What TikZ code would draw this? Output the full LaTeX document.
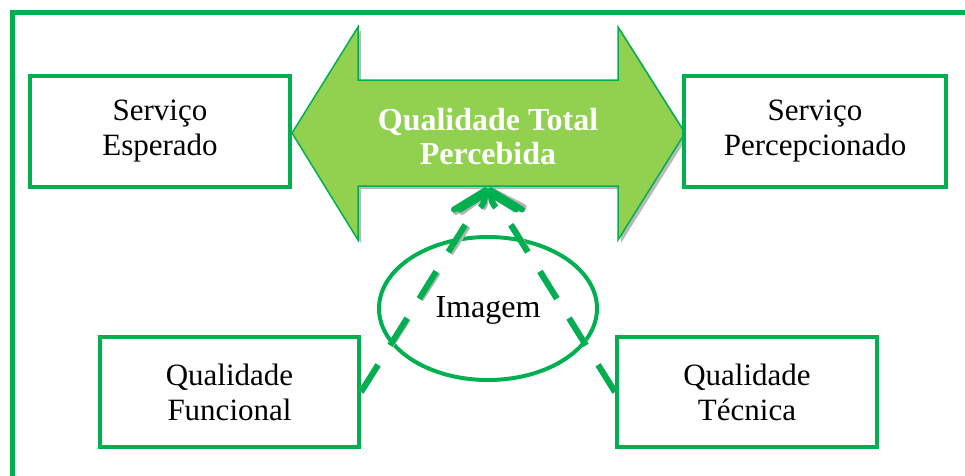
\documentclass[tikz,border=0pt]{standalone}
\usepackage{fontspec}
\setmainfont{Liberation Serif}
\usetikzlibrary{arrows.meta,shapes.geometric}
\definecolor{gr}{HTML}{00B050}
\definecolor{lg}{HTML}{92D050}
\begin{document}
\begin{tikzpicture}[x=1pt,y=-1pt,
  box/.style={draw=gr,line width=4pt,fill=white,minimum width=260pt,minimum height=111pt,align=center,inner sep=0pt,font=\fontsize{31}{35}\selectfont},
  conn/.style={draw=gr,line width=6pt,dash pattern=on 32pt off 23pt,-{Straight Barb[length=19pt,width=62pt,line cap=round]}},
  connshadow/.style={draw=gray!60,line width=6pt,dash pattern=on 32pt off 23pt,-{Straight Barb[length=19pt,width=62pt,line cap=round]}}]
\useasboundingbox (0,0) rectangle (965,475);
\clip (0,0) rectangle (965,475);
% outer frame
\draw[gr,line width=5pt] (12,12.5) rectangle (990,500);
% big double arrow
\fill[gray!55,shift={(3,3)}] (292,133) -- (358,27) -- (358,80) -- (618,80) -- (618,27) -- (685,133) -- (618,240) -- (618,186) -- (358,186) -- (358,240) -- cycle;
\draw[gr,line width=1.5pt,fill=lg] (292,133) -- (358,27) -- (358,80) -- (618,80) -- (618,27) -- (685,133) -- (618,240) -- (618,186) -- (358,186) -- (358,240) -- cycle;
\node[text=white,align=center,font=\bfseries\fontsize{32}{34}\selectfont] (qtp) at (488,137) {Qualidade Total\\Percebida};
\coordinate (tipL) at (485,187);
\coordinate (tipR) at (491,187);
% boxes
\node[box] (esp) at (160,131.5) {Serviço\\Esperado};
\node[box,minimum width=262pt] (perc) at (815,131.5) {Serviço\\Percepcionado};
\node[box,minimum width=259pt,minimum height=110pt] (fun) at (229.5,392) {Qualidade\\Funcional};
\node[box,minimum height=110pt] (tec) at (747,392) {Qualidade\\Técnica};
% ellipse
\node[ellipse,draw=gr,line width=4pt,minimum width=218pt,minimum height=143pt] (img) at (488,308.5) {};
% connectors
\draw[connshadow,shift={(2,2)}] (fun.east) -- (462,230) .. controls (478,204) and (485,210) .. (tipL);
\draw[connshadow,shift={(2,2)}] (tec.west) -- (514,230) .. controls (498,204) and (491,210) .. (tipR);
\draw[conn] (fun.east) -- (462,230) .. controls (478,204) and (485,210) .. (tipL);
\draw[conn] (tec.west) -- (514,230) .. controls (498,204) and (491,210) .. (tipR);
\node[font=\fontsize{32}{34}\selectfont,inner sep=0pt] (imgtxt) at (488,310) {Imagem};
\end{tikzpicture}
\end{document}
